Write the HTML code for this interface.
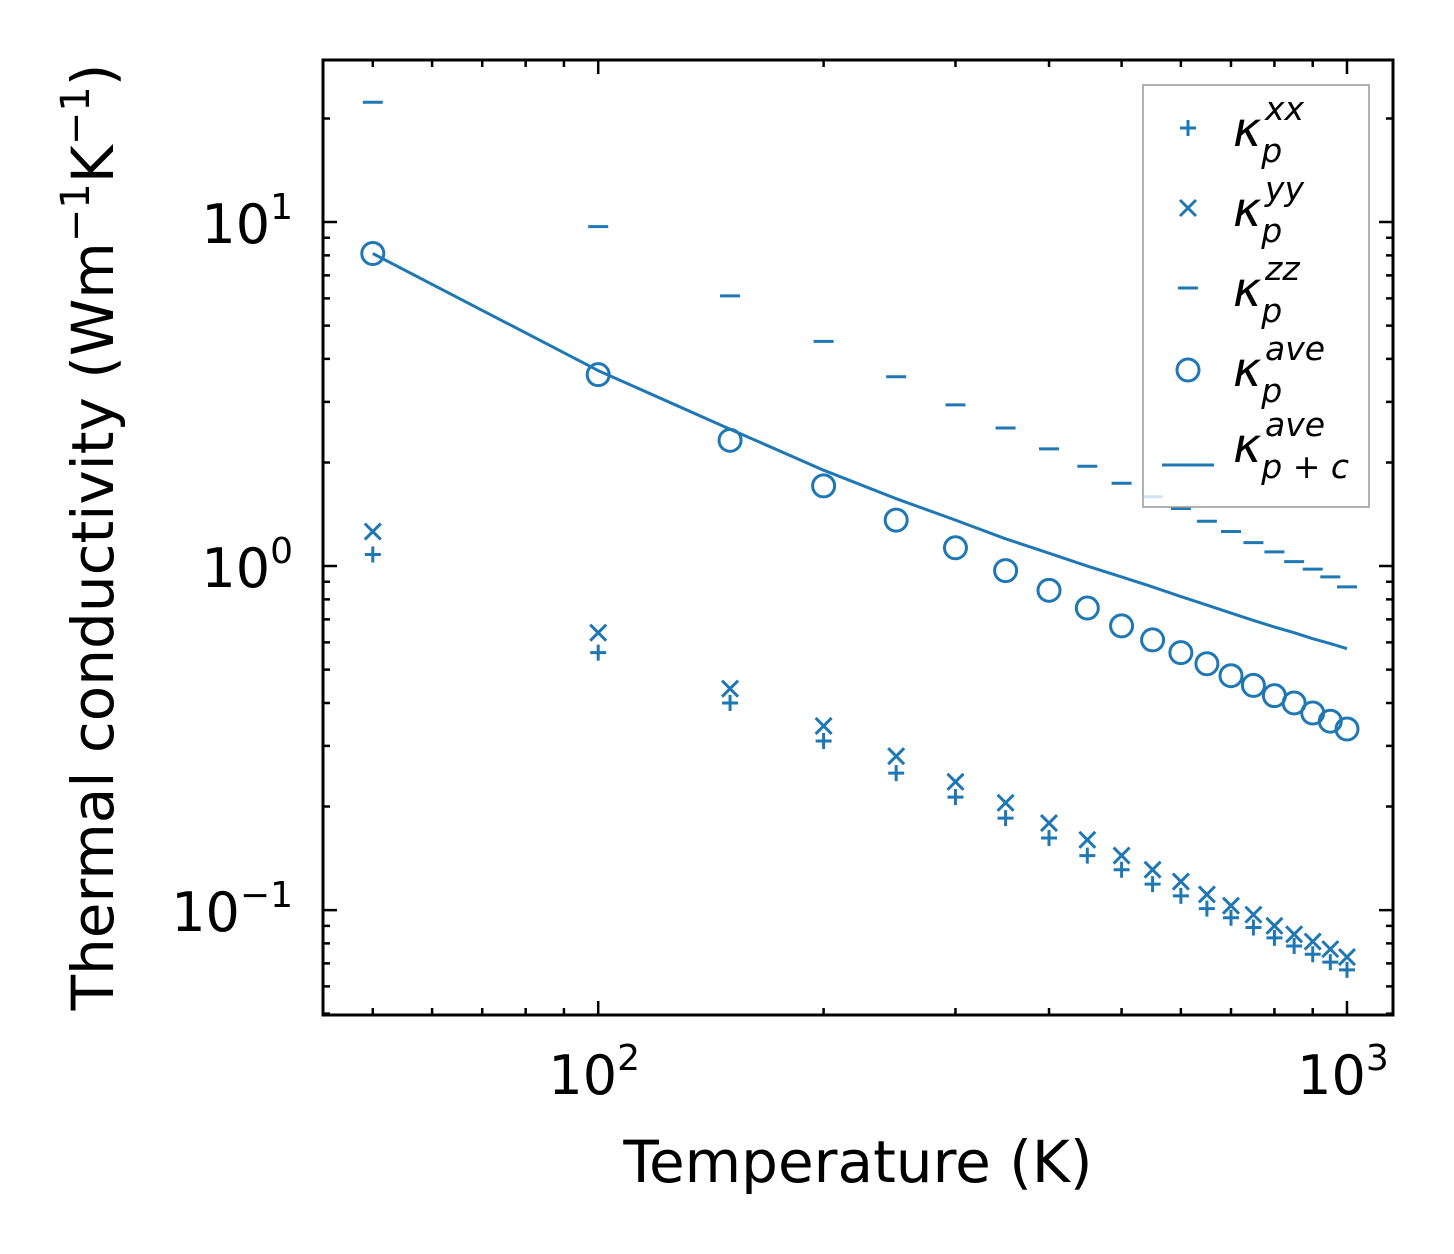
<!DOCTYPE html>
<html><head><meta charset="utf-8"><style>
html,body{margin:0;padding:0;background:#fff;}
svg{display:block;font-family:"DejaVu Sans","Liberation Sans",sans-serif;}
</style></head><body>
<svg id="chart" width="1454" height="1254" viewBox="0 0 1454 1254" xmlns="http://www.w3.org/2000/svg">
<g id="marks"></g>
<g id="axes"></g>
</svg>
<script>
const temps=[50,100,150,200,250,300,350,400,450,500,550,600,650,700,750,800,850,900,950,1000];
const kxx=[1.08,0.56,0.40,0.31,0.25,0.213,0.185,0.162,0.144,0.131,0.119,0.110,0.101,0.095,0.089,0.083,0.0786,0.0744,0.0706,0.067];
const kyy=[1.26,0.64,0.44,0.343,0.28,0.236,0.205,0.179,0.160,0.144,0.131,0.121,0.111,0.103,0.097,0.090,0.085,0.081,0.077,0.073];
const kzz=[22.3,9.7,6.1,4.5,3.55,2.94,2.52,2.19,1.95,1.74,1.59,1.47,1.35,1.26,1.17,1.10,1.03,0.98,0.93,0.87];
const kave=[8.1,3.6,2.32,1.71,1.36,1.13,0.97,0.85,0.755,0.67,0.61,0.56,0.52,0.48,0.45,0.42,0.40,0.374,0.354,0.336];
const kpc=[8.1,3.7,2.5,1.9,1.57,1.36,1.2,1.09,1.0,0.93,0.87,0.815,0.77,0.73,0.695,0.665,0.64,0.615,0.595,0.575];
const xTickExp=[2,3];
const yTickExp=[1,0,-1];

const L=323,R=1393,T=60,B=1015;
const xMin=Math.log10(42.9),xMax=Math.log10(1152);
const yMin=-1.305,yMax=1.471;
const X=v=>L+(Math.log10(v)-xMin)/(xMax-xMin)*(R-L);
const Y=v=>B-(Math.log10(v)-yMin)/(yMax-yMin)*(B-T);
const NS="http://www.w3.org/2000/svg";
const C="#1f77b4";
const marks=document.getElementById('marks'),axes=document.getElementById('axes');
function mk(tag,parent,attrs){const e=document.createElementNS(NS,tag);for(const k in attrs)e.setAttribute(k,attrs[k]);parent.appendChild(e);return e;}

let d=temps.map((t,i)=>(i?'L':'M')+X(t).toFixed(1)+','+Y(kpc[i]).toFixed(1)).join('');
let ln=mk('path',marks,{d:d,fill:'none',stroke:C,'stroke-width':3,'stroke-linejoin':'round'});



temps.forEach((t,i)=>{
  const x=X(t);
  let y=Y(kxx[i]);
  let p=mk('path',marks,{d:`M${x-8},${y}H${x+8}M${x},${y-8}V${y+8}`,stroke:C,'stroke-width':3});
  
  
  y=Y(kyy[i]);
  let q=mk('path',marks,{d:`M${x-8},${y-8}L${x+8},${y+8}M${x-8},${y+8}L${x+8},${y-8}`,stroke:C,'stroke-width':3});
  
  
  y=Y(kzz[i]);
  let z=mk('path',marks,{d:`M${x-10},${y}H${x+10}`,stroke:C,'stroke-width':3});
  
  
  y=Y(kave[i]);
  let c=mk('circle',marks,{cx:x,cy:y,r:11,fill:'none',stroke:C,'stroke-width':3});
  
  
});

let fr=mk('rect',axes,{x:L,y:T,width:R-L,height:B-T,fill:'none',stroke:'#000','stroke-width':3});


let td='';
for(let e=1;e<=3;e++)for(let m=1;m<10;m++){const v=m*Math.pow(10,e);const lv=Math.log10(v);if(lv<xMin||lv>xMax)continue;const x=X(v);const len=m===1?14:7;td+=`M${x},${B}v${-len}M${x},${T}v${len}`;}
for(let e=-2;e<=1;e++)for(let m=1;m<10;m++){const v=m*Math.pow(10,e);const lv=Math.log10(v);if(lv<yMin||lv>yMax)continue;const y=Y(v);const len=m===1?14:7;td+=`M${L},${y}h${len}M${R},${y}h${-len}`;}
let tk=mk('path',axes,{d:td,stroke:'#000','stroke-width':2.5});



xTickExp.forEach(e=>{
  const t=mk('text',axes,{x:X(Math.pow(10,e))-4,y:1094,'font-size':54,'text-anchor':'middle'});
  t.innerHTML=`10<tspan font-size="36" dy="-24">${e}</tspan>`;
  
  
});
yTickExp.forEach(e=>{
  const t=mk('text',axes,{x:293,y:Y(Math.pow(10,e))+21,'font-size':54,'text-anchor':'end'});
  t.innerHTML=`10<tspan font-size="36" dy="-24">${e<0?'\u2212'+(-e):e}</tspan>`;
  
  
});
let xt=mk('text',axes,{x:858,y:1182,'font-size':58,'text-anchor':'middle'});
xt.textContent='Temperature (K)';


let yt=mk('text',axes,{x:0,y:0,'font-size':58,'text-anchor':'middle',transform:'translate(113,537) rotate(-90)'});
yt.innerHTML='Thermal conductivity (Wm<tspan font-size="40" dy="-24">\u22121</tspan><tspan dy="24">K</tspan><tspan font-size="40" dy="-24">\u22121</tspan><tspan dy="24">)</tspan>';



const lg=mk('g',axes,{});


mk('rect',lg,{x:1143,y:85,width:226,height:422,fill:'rgba(255,255,255,0.8)',stroke:'#999','stroke-width':1.5});
const labs=[['xx','p'],['yy','p'],['zz','p'],['ave','p'],['ave','p + c']];
labs.forEach((lb,i)=>{
  const cy=128+i*80,mx=1188;
  let m;
  if(i===0)m=mk('path',lg,{d:`M${mx-8},${cy}H${mx+8}M${mx},${cy-8}V${cy+8}`,stroke:C,'stroke-width':3});
  if(i===1)m=mk('path',lg,{d:`M${mx-8},${cy-8}L${mx+8},${cy+8}M${mx-8},${cy+8}L${mx+8},${cy-8}`,stroke:C,'stroke-width':3});
  if(i===2)m=mk('path',lg,{d:`M${mx-10},${cy}H${mx+10}`,stroke:C,'stroke-width':3});
  if(i===3)m=mk('circle',lg,{cx:mx,cy:cy+2,r:11,fill:'none',stroke:C,'stroke-width':3});
  if(i===4)m=mk('path',lg,{d:`M1162,${cy+17}H1214`,stroke:C,'stroke-width':3});
  
  
  const t=mk('text',lg,{x:1233,y:cy+18+(i===4?-4:0),'font-size':48,'font-style':'italic'});
  t.innerHTML=`κ<tspan font-size="33" dy="16">${lb[1]}</tspan><tspan font-size="33" x="1265" dy="-42">${lb[0]}</tspan>`;
  
  
});
</script>
</body></html>
